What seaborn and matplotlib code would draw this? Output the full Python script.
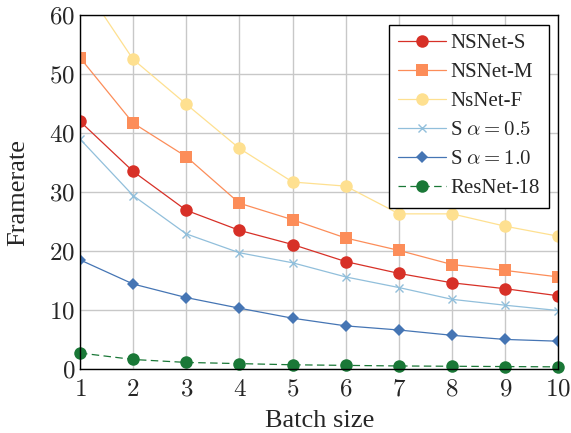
import numpy as np
import pandas as pd
import seaborn as sns
import matplotlib.pyplot as plt

# Values
batch = [1, 2, 3, 4, 5, 6, 7, 8, 9, 10]
nsnet_s = [42.0, 33.5, 26.9, 23.5, 21.1, 18.2, 16.2, 14.6, 13.6, 12.4]
nsnet_m = [52.8, 41.7, 36.0, 28.1, 25.3, 22.2, 20.1, 17.7, 16.7, 15.6]
nsnet_f = [66.0, 52.5, 44.9, 37.4, 31.7, 31.0, 26.3, 26.3, 24.2, 22.5]
s_alpha05 = [39.0, 29.4, 22.9, 19.7, 18.0, 15.6, 13.8, 11.8, 10.8, 9.9]
s_alpha10 = [18.5, 14.4, 12.1, 10.3, 8.6, 7.3, 6.6, 5.7, 5.0, 4.7]
resnet18 = [2.7, 1.6, 1.1, 0.9, 0.7, 0.6, 0.5, 0.45, 0.4, 0.35]
yticks = [0, 10, 20, 30, 40, 50, 60]

labels = ["NSNet-S", "NSNet-M", "NsNet-F", r"S $\alpha = 0.5$", r"S $\alpha = 1.0$", "ResNet-18"]
series = [nsnet_s, nsnet_m, nsnet_f, s_alpha05, s_alpha10, resnet18]
colors = ["#d73027", "#fc8d59", "#fee090", "#91bfdb", "#4575b4", "#1a7837"]
markers = ["o", "s", "o", "x", "D", "o"]
msizes = [9, 9, 9, 6, 6, 9]

sns.set_style("whitegrid")
plt.rcParams["font.family"] = ["Liberation Serif", "DejaVu Serif"]
plt.rcParams["mathtext.fontset"] = "cm"

fig, ax = plt.subplots(figsize=(5.71, 4.33), dpi=100)
fig.subplots_adjust(left=0.14, right=0.978, top=0.965, bottom=0.148)

for vals, lab, c, m, ms in zip(series, labels, colors, markers, msizes):
    df = pd.DataFrame({"Batch size": batch, "Framerate": vals})
    line = sns.lineplot(data=df, x="Batch size", y="Framerate", ax=ax, color=c, marker=m,
                        markersize=ms, linewidth=0.9, label=lab,
                        markeredgecolor=c, markeredgewidth=1.0 if m == "x" else 0,
                        clip_on=(lab != "ResNet-18")).lines[-1]
    if lab == "ResNet-18":
        line.set_dashes([6, 3.5])

ax.set_xlim(1, 10)
ax.set_ylim(0, 60)
ax.set_xticks(batch)
ax.set_xticklabels([f"${b}$" for b in batch])
ax.set_yticks(yticks)
ax.set_yticklabels([f"${t}$" for t in yticks])
ax.grid(True, color="#c8c8c8", linewidth=1.0)
for sp in ax.spines.values():
    sp.set_color("black")
    sp.set_linewidth(1.0)
ax.tick_params(axis="both", labelsize=18, direction="in", length=5, color="#888888")
ax.tick_params(axis="x", pad=7)
ax.set_xlabel("Batch size", fontsize=19, labelpad=7)
ax.set_ylabel("Framerate", fontsize=19, labelpad=14)

leg = ax.legend(loc="upper right", fontsize=15, frameon=True, fancybox=False,
                edgecolor="black", framealpha=1, borderpad=0.45, labelspacing=0.45,
                handlelength=2.3, handletextpad=0.2, borderaxespad=0.45)
leg.get_frame().set_linewidth(1.0)
for h in leg.legend_handles:
    if h.get_linestyle() == "--":
        h.set_dashes([6, 3.5])

plt.savefig("out.png", dpi=100)
